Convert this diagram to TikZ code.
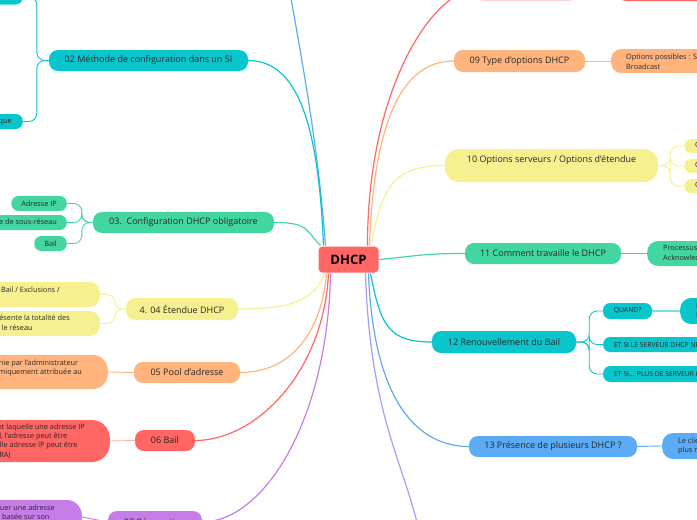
\documentclass[tikz,border=0pt]{standalone}
\usepackage{fontspec}
\setmainfont{Open Sans}
\definecolor{mmteal}{HTML}{0BC5CD}
\definecolor{mmmint}{HTML}{44D6A1}
\definecolor{mmyellow}{HTML}{F6F190}
\definecolor{mmorange}{HTML}{FFB47E}
\definecolor{mmred}{HTML}{FF6664}
\definecolor{mmpurple}{HTML}{C77DE8}
\definecolor{mmblue}{HTML}{5BABF5}
\definecolor{mmlav}{HTML}{A29FF7}
\definecolor{mmpink}{HTML}{FFD3D3}
\definecolor{ink}{HTML}{262626}

\begin{document}
\begin{tikzpicture}[x=1pt,y=-1pt,
  topic/.style={rounded corners=9pt,minimum height=21pt,inner sep=0pt,font=\fontsize{9}{10.5}\selectfont,text=ink},
  leaf/.style={rounded corners=7pt,minimum height=15pt,inner xsep=10pt,inner ysep=1pt,font=\fontsize{7.3}{9.3}\selectfont,text=ink,align=left},
  capsleaf/.style={leaf,font=\fontsize{6.8}{8}\selectfont},
  branch/.style={line width=1.2pt},
  twig/.style={line width=0.9pt,rounded corners=8pt}]
\useasboundingbox (0,0) rectangle (697,520);
\clip (0,0) rectangle (697,520);

\node[topic,fill=mmred,draw=white,line width=1pt,minimum width=61pt,minimum height=27pt,rounded corners=4pt,text=black,font=\fontsize{13}{15}\selectfont\bfseries] (dhcp) at (348.5,259.5) {DHCP};

% gauche
\node[topic,fill=mmteal,minimum width=199pt] (t02) at (148.5,60.5) {02 Méthode de configuration dans un SI};
\node[leaf,fill=mmteal,anchor=east,inner xsep=11pt] (t02a) at (23,-3) {Attribution dynamique};
\node[leaf,fill=mmteal,anchor=east,inner xsep=11pt] (t02b) at (23,121.5) {Attribution statique};

\node[topic,fill=mmmint,minimum width=181pt] (t03) at (183.5,222.5) {03.\ \ Configuration DHCP obligatoire};
\foreach \n/\y/\txt in {a/203.5/Adresse IP,b/222.5/Masque de sous-réseau,c/243.5/Bail}
  \node[leaf,fill=mmmint,anchor=east] (t03\n) at (67,\y) {\txt};

\node[topic,fill=mmyellow,minimum width=112pt,minimum height=22pt] (t04) at (182,309) {4. 04 Étendue DHCP};
\node[leaf,fill=mmyellow,anchor=east,inner xsep=40pt,minimum height=25pt,rounded corners=10pt] (t04a) at (100,294.5) {Plage / Durée du Bail / Exclusions /\\Réservations};
\node[leaf,fill=mmyellow,anchor=east,inner xsep=30pt,minimum height=25pt,rounded corners=10pt] (t04b) at (100,323.5) {Représente la totalité des\\pour le réseau};

\node[topic,fill=mmorange,minimum width=106pt] (t05) at (187,372.5) {05 Pool d'adresse};
\node[leaf,fill=mmorange,anchor=east,inner xsep=26pt,minimum height=34pt,rounded corners=15pt] (t05a) at (108,372) {Plage définie par l'administrateur\\puis dynamiquement attribuée au\\client};

\node[topic,fill=mmred,minimum width=60pt] (t06) at (165,440.5) {06 Bail};
\node[leaf,fill=mmred,anchor=east,inner xsep=25pt,minimum height=42pt,rounded corners=18pt] (t06a) at (110,441) {Durée pendant laquelle une adresse IP\\À la fin du bail, l'adresse peut être\\ou une nouvelle adresse IP peut être\\attribuée (DORA)};

\node[topic,fill=mmpurple,minimum width=94pt,minimum height=22pt] (t07) at (155,522) {07 Réservation};
\node[leaf,fill=mmpurple,anchor=east,inner xsep=27pt,minimum height=34pt,rounded corners=15pt] (t07a) at (82,517) {Permet d'attribuer une adresse\\IP fixe au client basée sur son\\adresse MAC};

% droite
\node[topic,fill=mmpink,minimum width=103pt,minimum height=22pt] (t08) at (526.5,-10) {};
\node[topic,fill=mmred,anchor=west,minimum width=100pt,minimum height=22pt] (t08a) at (617,-10) {};

\node[topic,fill=mmorange,minimum width=131pt,minimum height=22pt] (t09) at (519.5,61) {09 Type d'options DHCP};
\node[leaf,fill=mmorange,anchor=west,inner xsep=15pt,minimum height=24pt,rounded corners=10pt] (t09a) at (611,61) {Options possibles : Serveur, Étendue, Réservation,\\Broadcast};

\node[topic,fill=mmyellow,minimum width=213pt,minimum height=33pt,rounded corners=14pt,text depth=12pt] (t10) at (551.5,165.5) {10 Options serveurs / Options d'étendue};
\foreach \n/\y/\txt in {a/146/Option 003 : Routeur,b/166/Option 006 : Serveurs DNS,c/186/Option 015 : Nom de domaine}
  \node[leaf,fill=mmyellow,anchor=west,inner xsep=11pt,minimum height=14pt] (t10\n) at (684,\y) {\txt};

\node[topic,fill=mmmint,minimum width=156pt] (t11) at (543,253.5) {11 Comment travaille le DHCP};
\node[leaf,fill=mmmint,anchor=west,inner xsep=16pt,minimum height=25pt,rounded corners=11pt] (t11a) at (647,253.5) {Processus DORA : Discover, Offer, Request,\\Acknowledge};

\node[topic,fill=mmteal,minimum width=144pt,minimum height=22pt] (t12) at (504,342) {12 Renouvellement du Bail};
\node[capsleaf,fill=mmteal,minimum width=49pt,inner xsep=0pt,minimum height=16pt] (t12a) at (627.5,311) {QUAND?};
\node[leaf,fill=mmteal,anchor=west,inner xsep=16pt,minimum height=26pt,rounded corners=11pt] (t12a1) at (680,311) {Il renouvelle son bail à 50 \%\\Il retente à 87,5 \%};
\node[capsleaf,fill=mmteal,anchor=west,inner xsep=11pt] (t12b) at (603,344.5) {ET SI LE SERVEUR DHCP NE RÉPOND PAS ?};
\node[capsleaf,fill=mmteal,anchor=west,inner xsep=11pt,minimum height=16pt] (t12c) at (603,374) {ET SI... PLUS DE SERVEUR DHCP ?};

\node[topic,fill=mmblue,minimum width=168pt] (t13) at (553,446.5) {13 Présence de plusieurs DHCP ?};
\node[leaf,fill=mmblue,anchor=west,inner xsep=16pt,minimum height=26pt,rounded corners=11pt] (t13a) at (662,446) {Le client choisit l'offre la\\plus rapide};

\coordinate (c01) at (287,-25);
\coordinate (c14) at (422,545);

% branches principales
\draw[branch,mmblue] (c01) .. controls +(10,60) and +(-8,-110) .. ([xshift=8pt]dhcp.north west);
\draw[branch,mmteal] (t02.east) .. controls +(50,0) and +(-5,-120) .. ([xshift=6pt]dhcp.north west);
\draw[branch,mmmint] (t03.east) .. controls +(35,0) and +(-15,-15) .. ([xshift=3pt]dhcp.north west);
\draw[branch,mmyellow] (t04.east) .. controls +(45,0) and +(-10,30) .. ([xshift=7pt]dhcp.south west);
\draw[branch,mmorange] (t05.east) .. controls +(50,0) and +(-5,60) .. ([xshift=9pt]dhcp.south west);
\draw[branch,mmred] (t06.east) .. controls +(60,0) and +(-5,100) .. ([xshift=11pt]dhcp.south west);
\draw[branch,mmpurple] (t07.east) .. controls +(60,0) and +(-3,150) .. ([xshift=13pt]dhcp.south west);
\draw[branch,mmred] ([xshift=-12pt]dhcp.north east) .. controls +(0,-160) and +(-40,0) .. (t08.west);
\draw[branch,mmorange] ([xshift=-10pt]dhcp.north east) .. controls +(5,-140) and +(-45,0) .. (t09.west);
\draw[branch,mmyellow] ([xshift=-8pt]dhcp.north east) .. controls +(10,-60) and +(-50,0) .. (t10.west);
\draw[branch,mmmint] (dhcp.east) .. controls +(40,-4) and +(-40,0) .. (t11.west);
\draw[branch,mmteal] ([xshift=-9pt]dhcp.south east) .. controls +(10,50) and +(-45,0) .. (t12.west);
\draw[branch,mmblue] ([xshift=-11pt]dhcp.south east) .. controls +(5,130) and +(-50,0) .. (t13.west);
\draw[branch,mmlav] ([xshift=-14pt]dhcp.south east) .. controls +(5,150) and +(-15,-80) .. (c14);

% sous-branches
\foreach \n in {a,b} \draw[twig,mmteal] (t02.west) -- ++(-12,0) |- (t02\n.east);
\foreach \n in {a,b,c} \draw[twig,mmmint] (t03.west) -- ++(-11,0) |- (t03\n.east);
\foreach \n in {a,b} \draw[twig,mmyellow] (t04.west) -- ++(-11,0) |- (t04\n.east);
\draw[twig,mmorange] (t05.west) -- (t05a.east);
\draw[twig,mmred!50] (t06.west) -- (t06a.east);
\draw[twig,mmpurple] (t07.west) -- (t07a.east);
\draw[twig,mmorange] (t09.east) -- (t09a.west);
\foreach \n in {a,b,c} \draw[twig,mmyellow] (t10.east) -- ++(12,0) |- (t10\n.west);
\draw[twig,mmmint] (t11.east) -- (t11a.west);
\foreach \n in {a,b,c} \draw[twig,mmteal] (t12.east) -- ++(13,0) |- (t12\n.west);
\draw[line width=2.5pt,mmteal!55] (t12a.east) -- (t12a1.west);
\draw[twig,mmblue] (t13.east) -- (t13a.west);
\end{tikzpicture}
\end{document}
